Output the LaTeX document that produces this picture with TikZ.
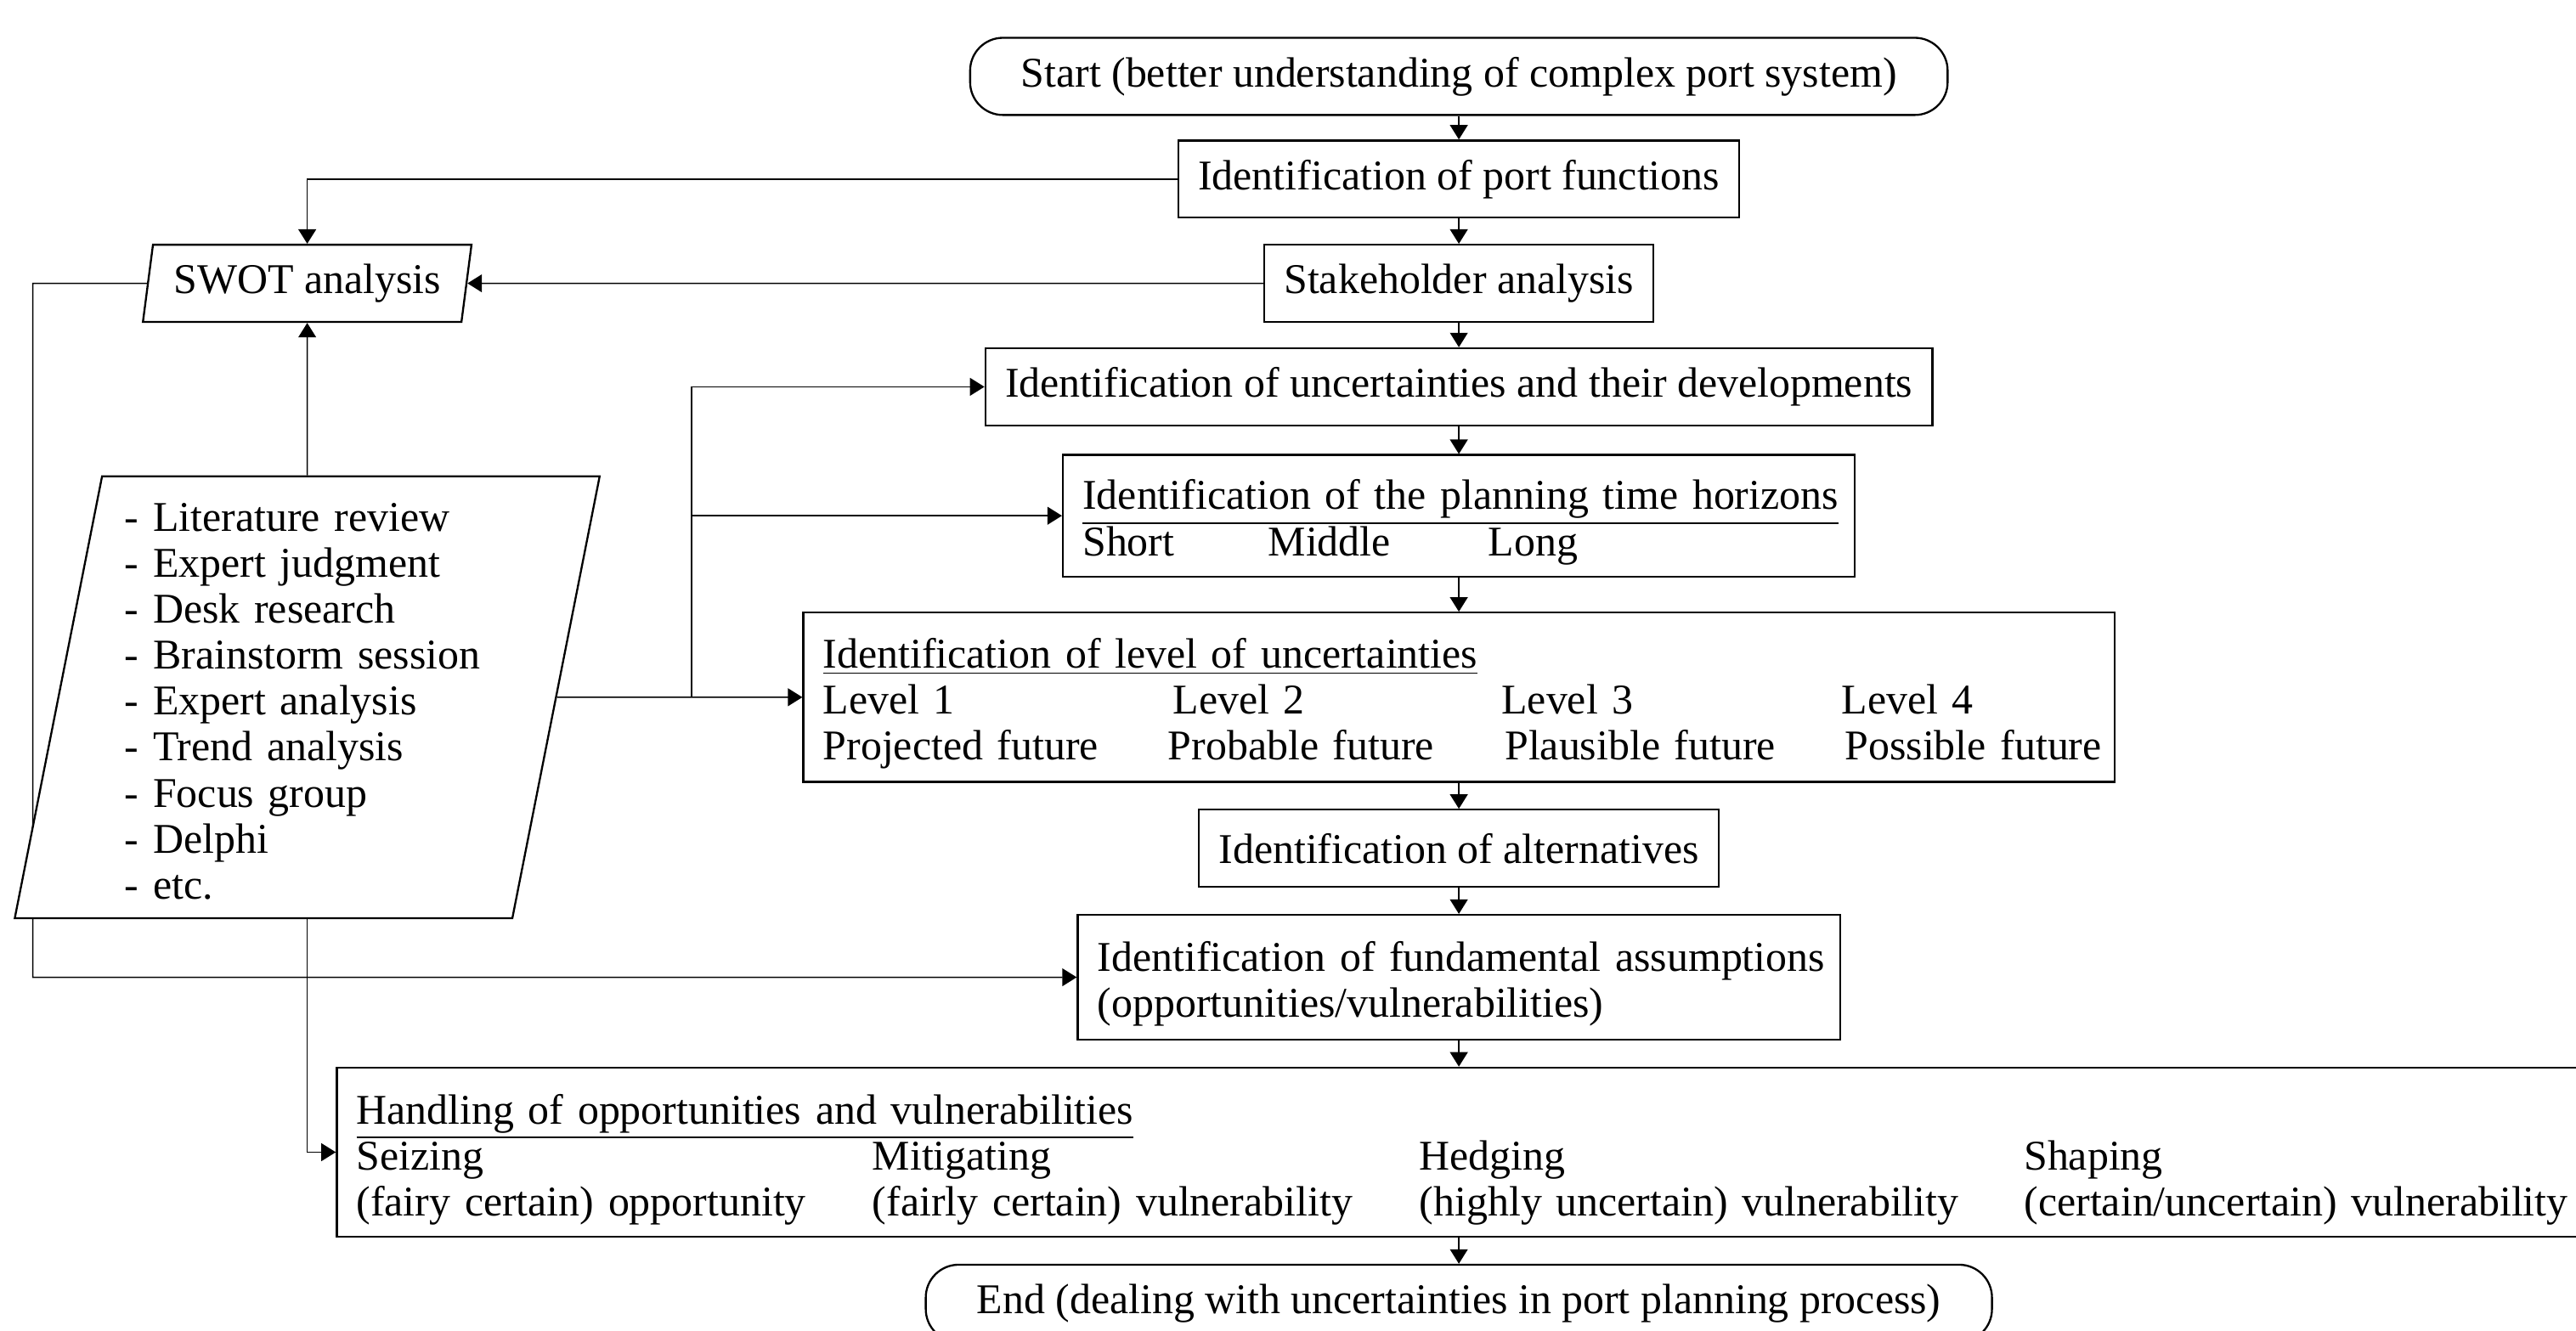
\documentclass[tikz,border=0pt]{standalone}
\usepackage{fontspec}
\setmainfont{Liberation Serif}
\usetikzlibrary{shapes.geometric,arrows.meta,backgrounds}
\tikzstyle{every edge} = [draw,-{Triangle[length=4.4pt,width=5.4pt]}]
\tikzstyle{conn} = [draw,-{Triangle[length=4.4pt,width=5.4pt]}]
\tikzstyle{block} = [draw,fill=white,inner xsep=6pt,inner ysep=2pt,minimum height=23.5pt,font=\fontsize{12.9pt}{14pt}\selectfont]
\tikzstyle{terminal} = [block,rounded corners=10pt]
\tikzstyle{inout} = [block,trapezium,trapezium left angle=79,trapezium right angle=101,trapezium stretches body]
\newcommand\tabcol[2]{\makebox[#1][l]{#2}}
\newcommand\topstrut[1]{\rule{0pt}{#1}}

\begin{document}
\begin{tikzpicture}[x=0.5pt,y=-0.5pt,line width=0.6pt]
\useasboundingbox (0,0) rectangle (1568,810);

\node[terminal,minimum width=297.5pt] (start) at (888,46.5) {Start (better understanding of complex port system)};
\node[block,minimum width=169pt] (func) at (888,109) {Identification of port functions};
\node[block,minimum width=116.5pt] (stake) at (888,172.5) {Stakeholder analysis};
\node[block,minimum width=286pt] (unc) at (888,235.5) {Identification of uncertainties and their developments};
\node[block,text width=229pt,minimum height=37pt,align=left] (horizon) at (888,314) {\mbox{\topstrut{13pt}\underline{Identification of the planning time horizons}}\\
  \mbox{\tabcol{56.5pt}{Short}\tabcol{67pt}{Middle}Long}};
\node[block,text width=387pt,minimum height=51.5pt,align=left] (level) at (888,424.5) {\mbox{\topstrut{13pt}\underline{Identification of level of uncertainties}}\\
  \mbox{\tabcol{106.5pt}{Level 1}\tabcol{100pt}{Level 2}\tabcol{103.5pt}{Level 3}Level 4}\\
  \mbox{\tabcol{105pt}{Projected future}\tabcol{102.5pt}{Probable future}\tabcol{103.5pt}{Plausible future}Possible future}};
\node[block,minimum width=156.5pt] (alt) at (888,516.5) {Identification of alternatives};
\node[block,text width=220pt,minimum height=38pt,align=left] (assume) at (888,595) {\mbox{\topstrut{13pt}Identification of fundamental assumptions}\\
  \mbox{(opportunities/vulnerabilities)}};
\node[block,text width=671pt,minimum height=51.5pt,align=left] (handle) at (888,701.5) {\mbox{\topstrut{13.5pt}\underline{Handling of opportunities and vulnerabilities}}\\
  \mbox{\tabcol{157pt}{Seizing}\tabcol{166.5pt}{Mitigating}\tabcol{184pt}{Hedging}Shaping}\\
  \mbox{\tabcol{157pt}{(fairy certain) opportunity}\tabcol{166.5pt}{(fairly certain) vulnerability}\tabcol{184pt}{(highly uncertain) vulnerability}(certain/uncertain) vulnerability}};
\node[terminal,minimum width=324.5pt] (end) at (888,793.5) {End (dealing with uncertainties in port planning process)};

\node[inout,minimum width=100pt] (swot) at (187,172.5) {SWOT analysis};
\node[inout,trapezium left angle=78.2,trapezium right angle=101.8,minimum width=178pt,minimum height=134.5pt,text width=111pt,align=left] (method) at (187,424.5) {\topstrut{11pt}- Literature review\\
  - Expert judgment\\
  - Desk research\\
  - Brainstorm session\\
  - Expert analysis\\
  - Trend analysis\\
  - Focus group\\
  - Delphi\\
  - etc.};

\coordinate (split) at (421,424.5);
\coordinate (back) at (20,172.5);

\begin{scope}[on background layer]
\draw (start) edge (func) (func) edge (stake) (stake) edge (unc) (unc) edge (horizon)
  (horizon) edge (level) (level) edge (alt) (alt) edge (assume) (assume) edge (handle) (handle) edge (end);
\draw[conn] (func) -| (swot);
\draw[conn] (stake) -- (swot);
\draw[conn] (method) -- (swot);
\draw[conn] (method) -- (level);
\draw[conn] (split) |- (unc);
\draw[conn] (split |- horizon) -- (horizon);
\draw[conn] (swot) -- (back) |- (assume);
\draw[conn] (method) |- (handle);
\end{scope}
\end{tikzpicture}
\end{document}
